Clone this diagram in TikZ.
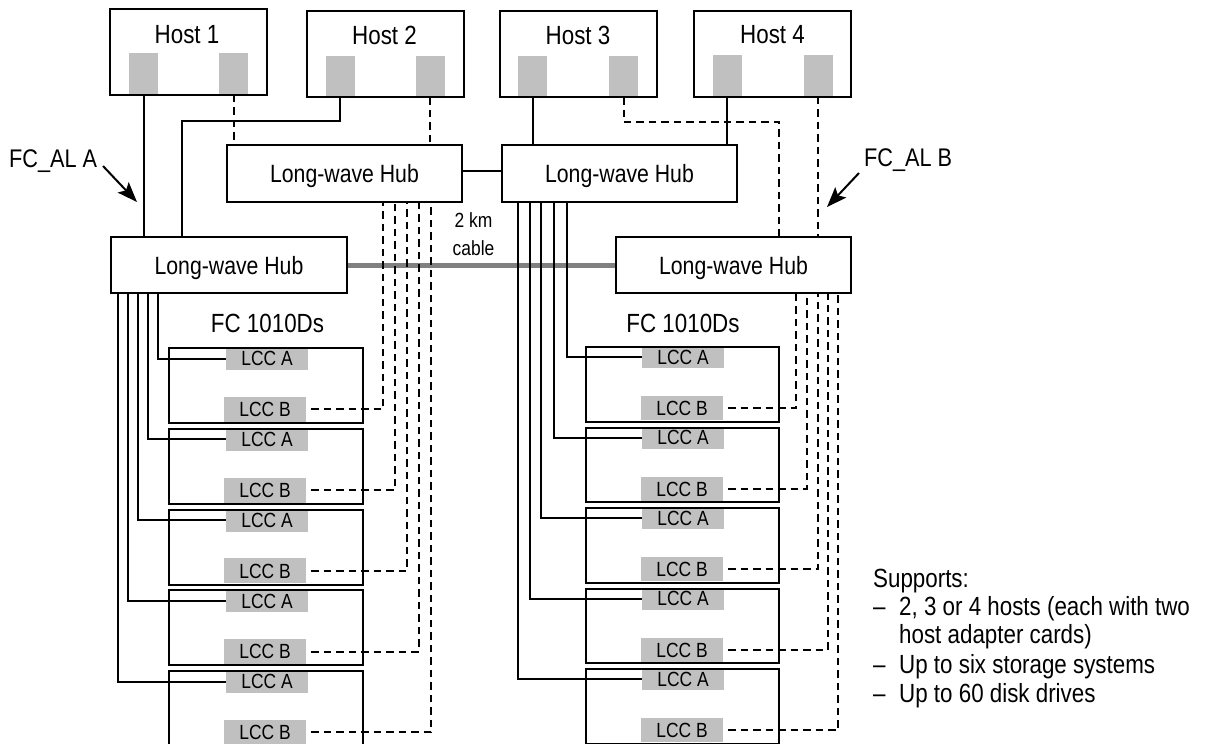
\documentclass[tikz,border=0pt]{standalone}
\usepackage{fontspec}
\setmainfont{Liberation Sans}[FakeStretch=0.85]
\usetikzlibrary{arrows.meta}
\definecolor{portgray}{HTML}{C0C0C0}
\definecolor{cablegray}{HTML}{808080}
\tikzset{
  box/.style={draw=black, line width=2pt, inner sep=0pt},
  hostbox/.style={box, minimum width=157pt, minimum height=86pt},
  hubbox/.style={box, minimum width=235pt, minimum height=56pt, font=\fontsize{25}{30}\selectfont, text height=18pt, text depth=0pt},
  stor/.style={box, minimum width=194pt},
  port/.style={fill=portgray, draw=none, minimum width=29pt, minimum height=41.5pt, inner sep=0pt, anchor=north},
  lcc/.style={fill=portgray, draw=none, inner sep=0pt, minimum width=82pt, font=\fontsize{20.5}{24}\selectfont, text height=14.5pt, text depth=0pt},
  lbl/.style={font=\fontsize{26.3}{31}\selectfont, inner sep=0pt},
  sidelbl/.style={font=\fontsize{25.5}{30}\selectfont, inner sep=0pt},
  smalllbl/.style={font=\fontsize{20.5}{24}\selectfont, inner sep=0pt},
  wire/.style={line width=2pt},
  dwire/.style={line width=2pt, dash pattern=on 7.5pt off 5pt},
  cable/.style={line width=5pt, draw=cablegray},
  pointer/.style={line width=2pt, -{Stealth[length=20pt,width=15pt,inset=4pt]}},
}
\begin{document}
\begin{tikzpicture}[x=1pt,y=-1pt]
\fill[white] (0,0) rectangle (1207,744);
\useasboundingbox (0,0) rectangle (1207,744);

% ports
\node[port] (p1a) at (143.5,53) {};
\node[port] (p1b) at (233.5,53) {};
\node[port] (p2a) at (340,55.5) {};
\node[port] (p2b) at (430,55.5) {};
\node[port] (p3a) at (532.5,55.5) {};
\node[port] (p3b) at (623.5,55.5) {};
\node[port] (p4a) at (727,55) {};
\node[port] (p4b) at (818,55) {};
% hosts
\node[hostbox] (h1) at (188.5,51.5) {};
\node[hostbox] (h2) at (385,54) {};
\node[hostbox] (h3) at (578,54) {};
\node[hostbox] (h4) at (772.5,53.5) {};
\node[lbl, anchor=base] (h1t) at (187,43) {Host 1};
\node[lbl, anchor=base] (h2t) at (384.5,44) {Host 2};
\node[lbl, anchor=base] (h3t) at (578,44) {Host 3};
\node[lbl, anchor=base] (h4t) at (772.5,43.5) {Host 4};

% hubs
\node[hubbox, minimum height=57pt] (hubUL) at (344.5,173.5) {Long-wave Hub};
\node[hubbox, minimum height=57pt] (hubUR) at (619.5,173.5) {Long-wave Hub};
\node[hubbox, minimum width=236pt] (hubLL) at (229,265) {Long-wave Hub};
\node[hubbox] (hubLR) at (733.5,265) {Long-wave Hub};

% labels
\node[lbl, anchor=base] (fcL) at (267.5,332) {FC 1010Ds};
\node[lbl, anchor=base] (fcR) at (683,332) {FC 1010Ds};
\node[smalllbl, anchor=base] (km) at (473.5,227) {2 km};
\node[smalllbl, anchor=base] (cab) at (473.5,255) {cable};
\node[sidelbl, anchor=base west] (fcA) at (9,167) {FC\_AL A};
\node[sidelbl, anchor=base west] (fcB) at (864,166) {FC\_AL B};

% arrows
\coordinate (aA0) at (103,166);
\coordinate (aA1) at (137,202);
\coordinate (aB0) at (859,173);
\coordinate (aB1) at (827,207);
\draw[pointer] (aA0) -- (aA1);
\draw[pointer] (aB0) -- (aB1);

% left storage stack
\foreach \i in {1,...,5} {
  \pgfmathsetmacro\t{347+80.75*(\i-1)}
  \pgfmathsetmacro\bt{\t+75}
  \node[lcc, minimum height=23pt, anchor=north] (lA\i) at (267,\t) {LCC A};
  \node[lcc, minimum height=25pt, anchor=south] (lB\i) at (265,\bt) {LCC B};
  \node[stor, minimum height=75pt, anchor=north] (ls\i) at (266,\t) {};
}
% right storage stack
\foreach \i in {1,...,5} {
  \pgfmathsetmacro\t{346+80.5*(\i-1)}
  \pgfmathsetmacro\bt{\t+74.5}
  \node[lcc, minimum height=22pt, anchor=north] (rA\i) at (683,\t) {LCC A};
  \node[lcc, minimum height=24pt, anchor=south] (rB\i) at (682,\bt) {LCC B};
  \node[stor, minimum width=193pt, minimum height=74.5pt, anchor=north] (rs\i) at (682.5,\t) {};
}

% host to hub wiring
\coordinate (k1) at (182,121);
\coordinate (k2) at (779,122);
\draw[wire] (p1a.south) -- (p1a.south |- hubLL.north);
\draw[wire] (p2a.south) |- (k1) -- (k1 |- hubLL.north);
\draw[wire] (p3a.south) -- (p3a.south |- hubUR.north);
\draw[wire] (p4a.south) -- (p4a.south |- hubUR.north);
\draw[dwire] (p1b.south) -- (p1b.south |- hubUL.north);
\draw[dwire] (p2b.south) -- (p2b.south |- hubUL.north);
\draw[dwire] (p3b.south) |- (k2) -- (k2 |- hubLR.north);
\draw[dwire] (p4b.south) -- (p4b.south |- hubLR.north);
\draw[wire] ([yshift=3pt]hubUL.east) -- ([yshift=3pt]hubUR.west);
\draw[cable] (hubLL.east) -- (hubLR.west);

% hub to storage wiring
\foreach \i/\sx/\dx in {1/158/383, 2/148/395, 3/138/407, 4/128/419, 5/118/431} {
  \coordinate (cl\i) at (\sx,300);
  \coordinate (dl\i) at (\dx,300);
  \draw[wire] (hubLL.south -| cl\i) |- (lA\i.west);
  \draw[dwire] ([xshift=5pt]lB\i.east) -| (hubUL.south -| dl\i);
}
\foreach \i/\sx/\dx in {1/567/796, 2/554/807, 3/541/818, 4/530/828, 5/518/838} {
  \coordinate (cr\i) at (\sx,300);
  \coordinate (dr\i) at (\dx,300);
  \draw[wire] (hubUR.south -| cr\i) |- (rA\i.west);
  \draw[dwire] ([xshift=5pt]rB\i.east) -| (hubLR.south -| dr\i);
}

% supports text
\node[lbl, anchor=base west] (s0) at (873,587) {Supports:};
\node[lbl, anchor=base west] (d1) at (873,615) {–};
\node[lbl, anchor=base west] (s1) at (899,615) {2, 3 or 4 hosts (each with two};
\node[lbl, anchor=base west] (s2) at (899,643) {host adapter cards)};
\node[lbl, anchor=base west] (d3) at (873,673) {–};
\node[lbl, anchor=base west] (s3) at (899,673) {Up to six storage systems};
\node[lbl, anchor=base west] (d4) at (873,702) {–};
\node[lbl, anchor=base west] (s4) at (899,702) {Up to 60 disk drives};
\end{tikzpicture}
\end{document}
